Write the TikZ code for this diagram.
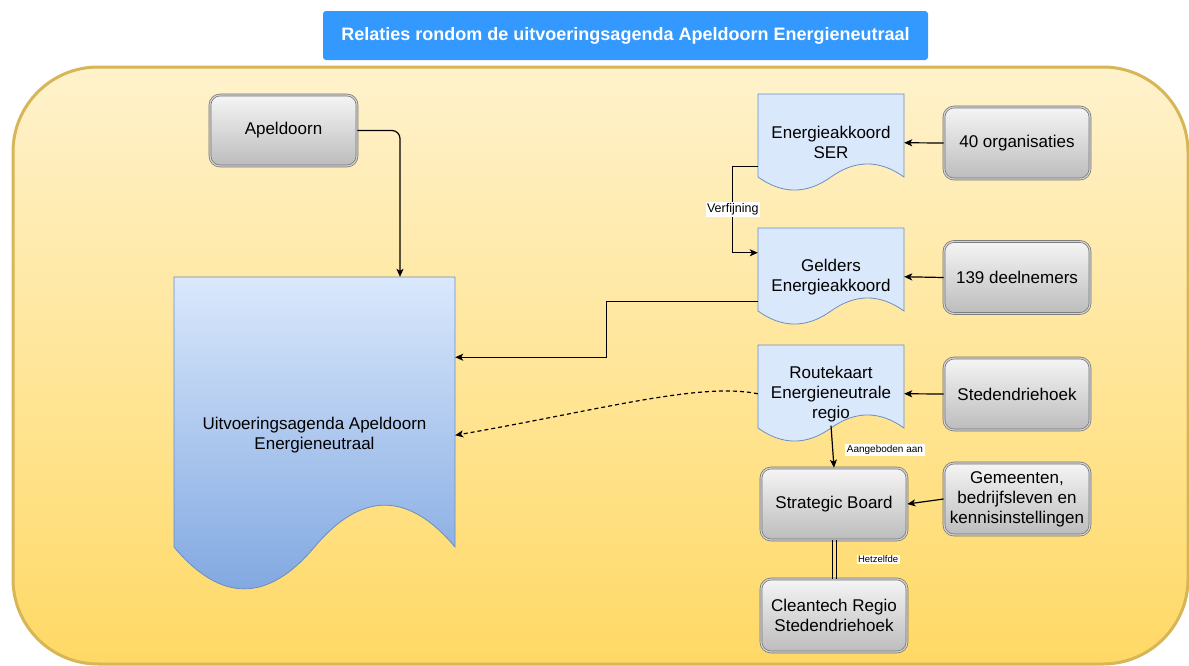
\documentclass[tikz,border=0pt]{standalone}
\usepackage{fontspec}
\setmainfont{Liberation Sans}
\usetikzlibrary{arrows.meta,calc}

\definecolor{ttl}{RGB}{51,153,255}
\definecolor{ctop}{RGB}{255,242,204}
\definecolor{cbot}{RGB}{255,217,102}
\definecolor{cbord}{RGB}{214,182,86}
\definecolor{dfill}{RGB}{218,232,252}
\definecolor{dbot}{RGB}{126,166,224}
\definecolor{dbord}{RGB}{108,142,191}
\definecolor{gtop}{RGB}{245,245,245}
\definecolor{gbot}{RGB}{188,188,188}
\definecolor{gbord}{RGB}{115,115,115}
\definecolor{gin}{RGB}{210,210,210}

\newcommand\docwave[6]{%
  \path[#6] (#1,#2) -- ({#1+#3},#2) -- ({#1+#3},{#2+#4})
    .. controls ({#1+5*#3/6},{#2+#4-0.6*#5}) and ({#1+2*#3/3},{#2+#4-0.6*#5}) .. ({#1+#3/2},{#2+#4})
    .. controls ({#1+#3/3},{#2+#4+0.6*#5}) and ({#1+#3/6},{#2+#4+0.6*#5}) .. (#1,{#2+#4}) -- cycle;}

\tikzset{
  txt/.style={font=\fontsize{17}{20}\selectfont, align=center, text=black},
  graybox/.style={txt, rectangle, rounded corners=10pt, minimum width=146pt, minimum height=72pt,
    inner sep=2pt, top color=gtop, bottom color=gbot, draw=gbord, double=gin,
    double distance=1.2pt, line width=0.7pt},
  docnode/.style={txt, rectangle, inner sep=0pt, minimum width=146pt},
  docshape/.style={draw=dbord, fill=dfill, line width=0.8pt},
  arr/.style={draw=black, line width=1.2pt, -{Stealth[length=8pt,width=7pt,inset=2pt]}},
  thinline/.style={draw=black, line width=1pt},
  lbl/.style={fill=white, inner sep=1.5pt, text=black},
  titlebox/.style={rectangle, rounded corners=3pt, fill=ttl, text=white,
    minimum width=605pt, minimum height=49pt, font=\fontsize{18}{21}\selectfont\bfseries}
}

\begin{document}
\begin{tikzpicture}[x=1pt,y=-1pt]
\useasboundingbox (0,0) rectangle (1189,665);

% container
\draw[line width=3pt, draw=cbord, top color=ctop, bottom color=cbot, rounded corners=85pt]
  (13,67) rectangle (1188,664);

% title
\node[titlebox] (title) at (625.5,35.5) {Relaties rondom de uitvoeringsagenda Apeldoorn Energieneutraal};

% document shapes
\docwave{174}{277}{281}{270}{93}{draw=dbord, line width=0.8pt, top color=dfill, bottom color=dbot}
\docwave{758}{94}{146}{83}{29}{docshape}
\docwave{758}{228}{146}{83}{29}{docshape}
\docwave{758}{345}{146}{83}{29}{docshape}

\node[docnode, minimum width=281pt, minimum height=316.5pt] (main) at (314.5,435.25)
  {Uitvoeringsagenda Apeldoorn\\Energieneutraal};
\node[docnode, minimum height=97.5pt] (ser) at (831,142.75) {Energieakkoord\\SER};
\node[docnode, minimum height=97.5pt] (gel) at (831,276.75) {Gelders\\Energieakkoord};
\node[docnode, minimum height=97.5pt] (route) at (831,393.75) {Routekaart\\Energieneutrale\\regio};

% gray boxes
\node[graybox, minimum width=147pt, minimum height=71pt] (apel) at (283.5,130.5) {Apeldoorn};
\node[graybox] (org) at (1017,143) {40 organisaties};
\node[graybox] (deel) at (1017,277.5) {139 deelnemers};
\node[graybox] (sted) at (1017,394) {Stedendriehoek};
\node[graybox] (gem) at (1017,499) {Gemeenten,\\bedrijfsleven en\\kennisinstellingen};
\node[graybox] (board) at (834,504) {Strategic Board};
\node[graybox, minimum height=73pt] (clean) at (834,615.5) {Cleantech Regio\\Stedendriehoek};

% connectors
\draw[arr, rounded corners=8pt] (apel.east) -| ([xshift=85.5pt]main.north);
\draw[arr] (org.west) -- (ser.east);
\draw[arr] (deel.west) -- (gel.east);
\draw[arr] (sted.west) -- (route.east);
\draw[arr] (gem.west) -- (board.east);
\draw[arr] ([yshift=-24pt]ser.west) -- ++(-25pt,0) |- ([yshift=24pt]gel.west)
  node[pos=0.25, lbl, font=\fontsize{12.5}{14}\selectfont] (verf) {Verfijning};
\draw[arr] ([yshift=-25pt]gel.west) -- ++(-151pt,0) |- ([yshift=78pt]main.east);
\draw[arr, dash pattern=on 4pt off 3pt] (route.west) .. controls (700,382) and (600,410) .. (main.east);
\draw[arr] ([yshift=17pt]route.south) -- (board.north)
  node[pos=0.58, anchor=west, xshift=12pt, lbl, font=\fontsize{10}{12}\selectfont] (aang) {Aangeboden aan};
\draw[thinline] ([xshift=-2pt]board.south) -- ([xshift=-2pt]clean.north);
\draw[thinline] ([xshift=2pt]board.south) -- ([xshift=2pt]clean.north)
  node[midway, anchor=west, xshift=20pt, lbl, font=\fontsize{9.5}{11}\selectfont] (hetz) {Hetzelfde};

\end{tikzpicture}
\end{document}
